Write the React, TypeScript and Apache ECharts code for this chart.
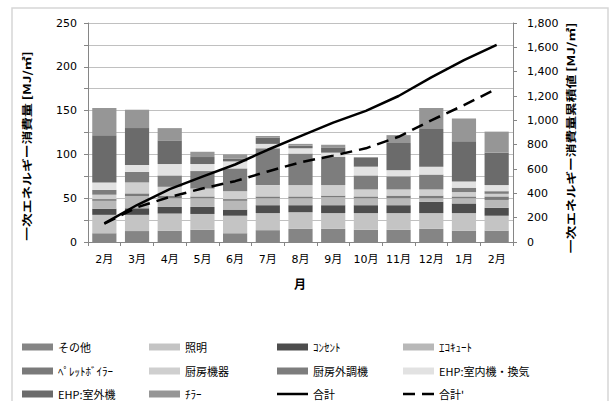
import { useEffect, useRef } from "react";
import * as echarts from "echarts";

// Months of the measurement year (Feb through the following Feb)
const months = ["2月", "3月", "4月", "5月", "6月", "7月", "8月", "9月", "10月", "11月", "12月", "1月", "2月"];

// Monthly primary energy by use [MJ/㎡], stacked from the bottom up
const sonota = [10, 12.5, 13, 14, 10, 13.5, 15, 15, 14, 14, 15, 13, 13];
const shoumei = [21, 18.5, 19.5, 18, 20, 19.5, 19, 18, 19, 19, 18, 20, 17];
const consent = [7, 7.5, 7.5, 8, 7, 9, 8, 9, 9, 9, 13, 11, 9];
const ecocute = [9, 14, 10, 10, 10, 8, 8, 9, 8, 8, 4, 6, 9];
const pellet = [2, 3, 3, 2, 2, 2, 2, 2, 2, 3, 3, 2, 4];
const kitchen = [5, 12.5, 10, 9, 9, 13, 13, 12, 8, 7, 7, 5, 3];
const kitchenAhu = [5.5, 12, 13, 20, 26, 42, 36, 32, 16, 15, 17, 5, 3];
const ehpIndoor = [8.5, 8, 13, 8, 8, 5, 6, 5, 10, 7, 9, 7, 7];
const ehpOutdoor = [54, 42, 27, 8, 3, 7, 3, 6, 10, 31, 43, 46, 37];
const chiller = [31, 21, 14, 6, 5, 2, 2, 3, 1, 9, 24, 26, 24];

// Cumulative totals [MJ/㎡] on the right axis
const cumTotal = [153, 304, 434, 537, 637, 758, 870, 981, 1078, 1200, 1353, 1494, 1620];
const cumTotal2 = [150, 285, 370, 440, 500, 580, 655, 710, 770, 865, 1000, 1125, 1260];

const leftTicks = [0, 50, 100, 150, 200, 250];

const barSeries = [
  { name: "その他", data: sonota, color: "#858585" },
  { name: "照明", data: shoumei, color: "#c4c4c4" },
  { name: "ｺﾝｾﾝﾄ", data: consent, color: "#4d4d4d" },
  { name: "ｴｺｷｭｰﾄ", data: ecocute, color: "#b8b8b8" },
  { name: "ﾍﾟﾚｯﾄﾎﾞｲﾗｰ", data: pellet, color: "#7a7a7a" },
  { name: "厨房機器", data: kitchen, color: "#cfcfcf" },
  { name: "厨房外調機", data: kitchenAhu, color: "#7d7d7d" },
  { name: "EHP:室内機・換気", data: ehpIndoor, color: "#e2e2e2" },
  { name: "EHP:室外機", data: ehpOutdoor, color: "#6b6b6b" },
  { name: "ﾁﾗｰ", data: chiller, color: "#969696" },
];

// Legend grid: 4 columns x 3 rows
const legendRows = [
  ["その他", "照明", "ｺﾝｾﾝﾄ", "ｴｺｷｭｰﾄ"],
  ["ﾍﾟﾚｯﾄﾎﾞｲﾗｰ", "厨房機器", "厨房外調機", "EHP:室内機・換気"],
  ["EHP:室外機", "ﾁﾗｰ", "合計", "合計'"],
];
const legendColX = [17, 144, 272, 398];
const legendRowY = [342, 366, 389];

const FONT = '"Noto Sans CJK JP", "Noto Sans", sans-serif';
const NUM_FONT = '"DejaVu Sans", "Noto Sans CJK JP", sans-serif';
const AXIS_GRAY = "#868686";

const legendText = { fontSize: 11, color: "#000", fontFamily: FONT, lineHeight: 12 };

function legendItem(name: string, left: number, cy: number) {
  let icon = "rect";
  let itemHeight = 7;
  if (name === "合計") {
    itemHeight = 2.5;
  } else if (name === "合計'") {
    icon = "path://M0,0h12v2.5h-12z M19,0h12v2.5h-12z";
    itemHeight = 2.5;
  }
  return {
    left,
    top: cy - 6,
    itemWidth: 31,
    itemHeight,
    symbolKeepAspect: false,
    textStyle: legendText,
    data: [{ name, icon }],
  };
}

const legends = legendRows.flatMap((row, r) =>
  row.map((name, c) => legendItem(name, legendColX[c], legendRowY[r]))
);

export default function App() {
  const ref = useRef<HTMLDivElement>(null);

  useEffect(() => {
    const chart = echarts.init(ref.current!, null, { renderer: "svg" });
    chart.setOption({
      animation: false,
      grid: { left: 88, right: 100, top: 23, height: 219 },
      legend: legends,
      xAxis: {
        type: "category",
        data: months,
        axisLine: { lineStyle: { color: AXIS_GRAY } },
        axisTick: { show: true, alignWithLabel: false, length: 4, lineStyle: { color: AXIS_GRAY } },
        axisLabel: { fontSize: 11, color: "#000", margin: 12, fontFamily: NUM_FONT },
      },
      yAxis: [
        {
          type: "value",
          min: 0,
          max: 250,
          interval: 25,
          axisLine: { show: true, lineStyle: { color: AXIS_GRAY } },
          axisTick: { show: true, length: 4, lineStyle: { color: AXIS_GRAY } },
          axisLabel: {
            fontSize: 11,
            color: "#000",
            margin: 11,
            fontFamily: NUM_FONT,
            formatter: (v: number) => (leftTicks.includes(v) ? String(v) : ""),
          },
          splitLine: { lineStyle: { color: "#c0c0c0", width: 1 } },
        },
        {
          type: "value",
          position: "right",
          min: 0,
          max: 1800,
          interval: 200,
          axisLine: { show: true, lineStyle: { color: AXIS_GRAY } },
          axisTick: { show: true, length: 4, lineStyle: { color: AXIS_GRAY } },
          axisLabel: {
            fontSize: 11,
            color: "#000",
            margin: 14,
            fontFamily: NUM_FONT,
            formatter: (v: number) => v.toLocaleString("en-US"),
          },
          splitLine: { show: false },
        },
      ],
      series: [
        ...barSeries.map((s) => ({
          name: s.name,
          type: "bar",
          stack: "energy",
          barCategoryGap: "26%",
          data: s.data,
          itemStyle: { color: s.color },
        })),
        {
          name: "合計",
          type: "line",
          yAxisIndex: 1,
          data: cumTotal,
          symbol: "none",
          lineStyle: { color: "#000", width: 2.5 },
          itemStyle: { color: "#000" },
          z: 5,
        },
        {
          name: "合計'",
          type: "line",
          yAxisIndex: 1,
          data: cumTotal2,
          symbol: "none",
          lineStyle: { color: "#000", width: 2.5, type: [12, 7] },
          itemStyle: { color: "#000" },
          z: 4,
        },
      ],
      graphic: [
        {
          type: "rect",
          silent: true,
          z: -10,
          shape: { x: 12, y: 8, width: 596, height: 400 },
          style: { fill: "none", stroke: "#d6d6d6", lineWidth: 1.5 },
        },
        {
          type: "text",
          x: 27,
          y: 146,
          rotation: Math.PI / 2,
          scaleX: 1.31,
          style: {
            text: "一次エネルギー消費量 [MJ/㎡]",
            font: `bold 10.5px ${FONT}`,
            fill: "#000",
            align: "center",
            verticalAlign: "middle",
          },
        },
        {
          type: "text",
          x: 571,
          y: 138,
          rotation: Math.PI / 2,
          scaleX: 1.31,
          style: {
            text: "一次エネルギー消費量累積値 [MJ/㎡]",
            font: `bold 10.5px ${FONT}`,
            fill: "#000",
            align: "center",
            verticalAlign: "middle",
          },
        },
        {
          type: "text",
          x: 300,
          y: 283,
          style: {
            text: "月",
            font: `bold 12px ${FONT}`,
            fill: "#000",
            align: "center",
            verticalAlign: "middle",
          },
        },
      ],
    });
    return () => chart.dispose();
  }, []);

  return <div ref={ref} style={{ position: "absolute", left: 0, top: 0, width: 613, height: 401 }} />;
}
